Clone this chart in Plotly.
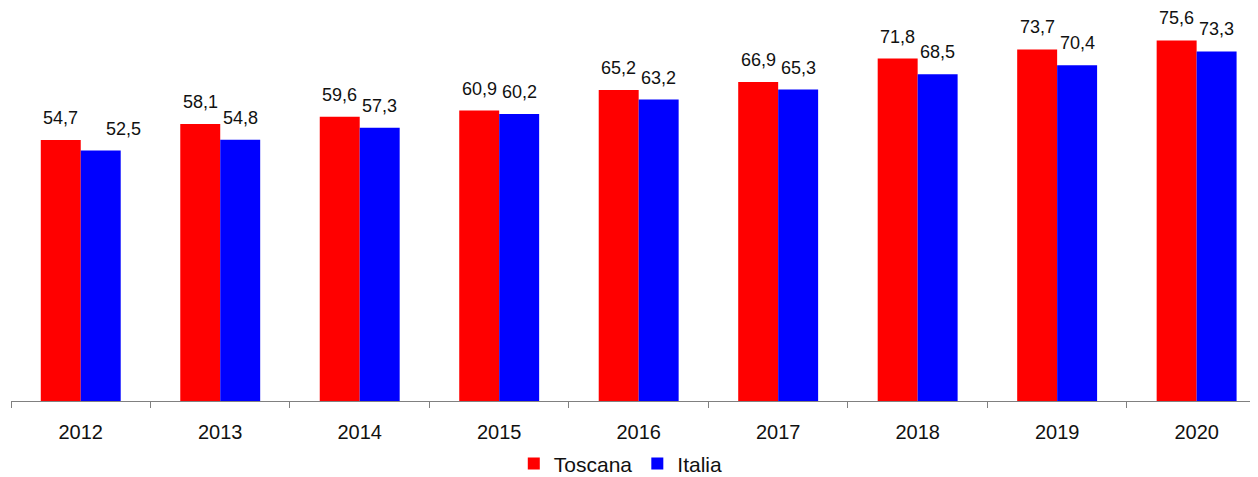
import plotly.graph_objects as go

years = ["2012", "2013", "2014", "2015", "2016", "2017", "2018", "2019", "2020"]
toscana = [54.7, 58.1, 59.6, 60.9, 65.2, 66.9, 71.8, 73.7, 75.6]
italia = [52.5, 54.8, 57.3, 60.2, 63.2, 65.3, 68.5, 70.4, 73.3]

RED = "#ff0000"
BLUE = "#0000ff"
FONT = "Liberation Sans, Arial, sans-serif"

def fmt(v):
    return f"{v:.1f}".replace(".", ",")

fig = go.Figure()
fig.add_trace(go.Bar(name="Toscana", x=years, y=toscana, marker_color=RED, marker_line_width=0))
fig.add_trace(go.Bar(name="Italia", x=years, y=italia, marker_color=BLUE, marker_line_width=0))

annotations = []
for i, (yr, t, it) in enumerate(zip(years, toscana, italia)):
    # category index i (numeric-looking category names would be read as positions)
    annotations.append(dict(x=i, y=t, xref="x", yref="y", text=fmt(t), showarrow=False,
                            xshift=-20, yshift=22, font=dict(size=18, color="#111111", family=FONT)))
    annotations.append(dict(x=i, y=it, xref="x", yref="y", text=fmt(it), showarrow=False,
                            xshift=43 if i == 0 else 20, yshift=22,
                            font=dict(size=18, color="#111111", family=FONT)))

# the page body has an 8px margin, so the figure is sized to fill the rest of the window
fig.update_layout(
    width=1250, height=469,
    margin=dict(l=3, r=0, t=0, b=76),
    paper_bgcolor="white", plot_bgcolor="white",
    barmode="group", bargap=0.427, bargroupgap=0,
    font=dict(family=FONT, color="#111111"),
    showlegend=True,
    legend=dict(orientation="h", x=0.489, xanchor="center", y=0.028, yref="container",
                yanchor="middle", font=dict(size=21, color="#111111", family=FONT),
                traceorder="normal", itemwidth=30),
    annotations=annotations,
    xaxis=dict(type="category", range=[-0.5, 8.44], showline=True, linecolor="#808080", linewidth=1,
               ticks="outside", tickson="boundaries", ticklen=6, tickcolor="#808080",
               showgrid=False, tickfont=dict(size=20, color="#111111", family=FONT),
               ticklabelstandoff=13),
    yaxis=dict(range=[0, 82.4], showgrid=False, zeroline=False, showline=False,
               showticklabels=False, ticks=""),
)

fig.write_html("out.html")
